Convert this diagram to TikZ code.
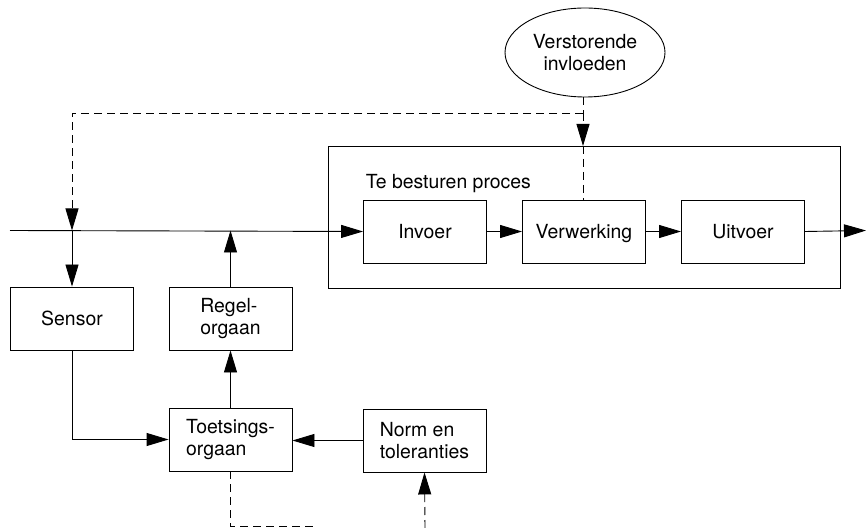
\documentclass[tikz,border=0pt]{standalone}
\usepackage{fontspec}
\setmainfont{TeX Gyre Heros}
\usetikzlibrary{arrows.meta,shapes.geometric}
\begin{document}
\begin{tikzpicture}[x=1bp,y=-1bp,
  line width=0.9bp,
  font=\fontsize{19.5}{22}\selectfont,
  box/.style={draw,rectangle,minimum width=123bp,minimum height=63bp,inner sep=0pt},
  onebox/.style={box,text height=14bp,text depth=0bp},
  tip/.style={-{Triangle[length=22bp,width=13bp]}},
  dsh/.style={dash pattern=on 8bp off 5bp}]
\useasboundingbox (0,0) rectangle (866,528);
% outer process box
\node[draw,rectangle,minimum width=512bp,minimum height=142bp,inner sep=0pt] (proc) at (584,217) {};
\node[anchor=west] (label) at (362,184) {Te besturen proces};
% process boxes
\node[onebox] (inv) at (425,231.5) {Invoer};
\node[onebox] (ver) at (584,231.5) {Verwerking};
\node[onebox] (uit) at (743,231.5) {Uitvoer};
% control boxes
\node[onebox] (sen) at (72,318.5) {Sensor};
\node[box,align=left] (reg) at (230.5,318.5) {Regel-\\orgaan};
\node[box,align=left] (toe) at (230.5,439.5) {Toetsings-\\orgaan};
\node[box,align=left] (nor) at (424.5,440.5) {Norm en\\toleranties};
% disturbance ellipse
\node[draw,ellipse,minimum width=160bp,minimum height=89bp,inner sep=0pt,align=center] (ver0) at (585,52.5) {Verstorende\\invloeden};
% coordinates
\coordinate (start) at (10,230.5);
\coordinate (endp) at (866,230.5);
\coordinate (sj) at (72,230.5);
\coordinate (rj) at (230.5,230.5);
\coordinate (dc) at (583,113);
\coordinate (dl) at (72,113);
\coordinate (dt) at (583,146);
\coordinate (dv) at (583,200);
\coordinate (b1) at (230.5,526.5);
\coordinate (b2) at (318,526.5);
\coordinate (nb) at (425,528);
% main line
\draw[tip] (start) -- (inv.west);
\draw[tip] (inv.east) -- (ver.west);
\draw[tip] (ver.east) -- (uit.west);
\draw[tip] (uit.east) -- (endp);
% sensor / regel
\draw[tip] (sj) -- (sen.north);
\draw[tip] (reg.north) -- (rj);
\draw[tip] (sen.south) |- (toe.west);
\draw[tip] (toe.north) -- (reg.south);
\draw[tip] (nor.west) -- (toe.east |- nor.west);
% disturbances dashed
\draw[dsh] (ver0.south -| dc) -- (dc);
\draw[dsh,tip] (dc) -- (dt);
\draw[dsh] (dt) -- (dv);
\draw[dsh,tip] (dc) -- (dl) -- (sj);
% bottom dashed
\draw[dsh] (toe.south) -- (b1) -- (b2);
\draw[dsh,tip] (nb) -- (nor.south);
\end{tikzpicture}
\end{document}
